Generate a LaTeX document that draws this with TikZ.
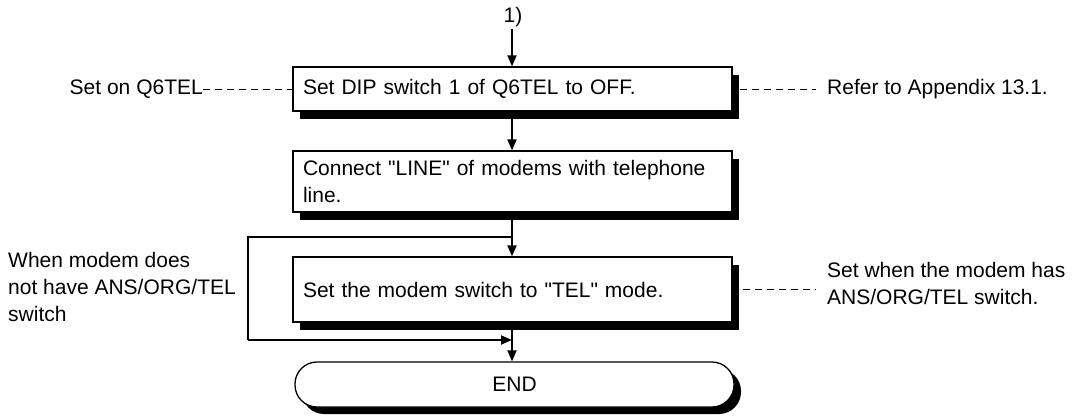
\documentclass[tikz,border=0pt]{standalone}
\usepackage{fontspec}
\setmainfont{Liberation Sans}[Ligatures=TeXOff]
\usetikzlibrary{arrows.meta,shadows}
\begin{document}
\begin{tikzpicture}[x=1pt,y=-1pt,
  font=\fontsize{21}{27}\selectfont,
  shbox/.style={draw=black,line width=1.3pt,fill=white,
    drop shadow={shadow xshift=7pt,shadow yshift=-8pt,fill=black,opacity=1},
    minimum width=439pt,text width=419pt,inner xsep=10pt,inner ysep=0pt,align=left},
  endbox/.style={draw=black,line width=1.3pt,fill=white,rounded corners=22pt,
    drop shadow={shadow xshift=7pt,shadow yshift=-7pt,fill=black,opacity=1},
    minimum width=439pt,minimum height=45pt,inner sep=0pt},
  flow/.style={line width=1.8pt,-{Triangle[length=11pt,width=9pt]}},
  plain/.style={line width=1.8pt},
  note/.style={line width=0.8pt,dash pattern=on 7pt off 5pt},
  lbl/.style={inner sep=0pt,align=left}]
\useasboundingbox (0,0) rectangle (1074,416);
\node[lbl] (start) at (513,17) {1)};
\coordinate (s0) at (512,29);
\node[shbox,minimum height=44pt] (b1) at (512.5,89) {Set DIP switch 1 of Q6TEL to OFF.};
\node[shbox,minimum height=61pt] (b2) at (512.5,181.5) {Connect "LINE" of modems with telephone\\line.};
\node[shbox,minimum height=65pt] (b3) at (512.5,289.5) {Set the modem switch to "TEL" mode.};
\node[endbox] (end) at (514.5,384.5) {END};
\coordinate (j1) at (512,237);
\coordinate (la) at (248,237);
\coordinate (lb) at (248,340);
\coordinate (j2) at (512,340);
\draw[flow] (s0) -- (b1.north -| s0);
\draw[flow] (b1.south -| s0) -- (b2.north -| s0);
\draw[flow] (b2.south -| s0) -- (b3.north -| s0);
\draw[plain] (j1) -- (la) -- (lb);
\draw[flow] (lb) -- (j2);
\draw[flow] (b3.south -| s0) -- (end.north -| s0);
\node[lbl,anchor=east] (t1) at (203,89) {Set on Q6TEL};
\draw[note] (t1.east) -- (b1.west);
\node[lbl,anchor=west] (t2) at (827,89) {Refer to Appendix 13.1.};
\coordinate (d2) at (740,89);
\draw[note] (d2) -- ([xshift=-11pt]t2.west);
\node[lbl,anchor=west] (t3) at (8,287) {When modem does\\not have ANS/ORG/TEL\\switch};
\node[lbl,anchor=west] (t4) at (827,283) {Set when the modem has\\ANS/ORG/TEL switch.};
\coordinate (d3) at (743,289.5);
\draw[note] (d3) -- ([xshift=-11pt]t4.west |- d3);
\end{tikzpicture}
\end{document}
